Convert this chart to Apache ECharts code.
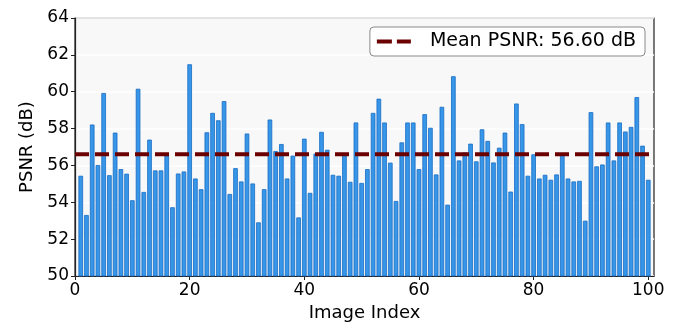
<!DOCTYPE html>
<html>
<head>
<meta charset="utf-8">
<script src="https://cdn.jsdelivr.net/npm/echarts@6/dist/echarts.min.js"></script>
<style>
  html, body { margin: 0; padding: 0; background: #fff; }
  #chart { width: 681px; height: 322px; }
</style>
</head>
<body>
<div id="chart"></div>
<script>
// PSNR per image (index 1..100)
const imageIndex = Array.from({ length: 100 }, (_, i) => i + 1);
const psnr = [
  55.44, 53.31, 58.22, 56.02, 59.93, 55.47, 57.78, 55.80, 55.55, 54.11,
  60.16, 54.56, 57.40, 55.73, 55.73, 56.55, 53.73, 55.56, 55.67, 61.49,
  55.29, 54.71, 57.80, 58.85, 58.45, 59.49, 54.45, 55.85, 55.13, 57.73,
  55.02, 52.91, 54.71, 58.49, 56.78, 57.16, 55.29, 56.53, 53.18, 57.45,
  54.51, 56.64, 57.82, 56.85, 55.49, 55.44, 56.60, 55.11, 58.33, 55.05,
  55.80, 58.85, 59.62, 58.33, 56.15, 54.07, 57.25, 58.33, 58.33, 55.80,
  58.78, 58.04, 55.51, 59.18, 53.87, 60.84, 56.27, 56.70, 57.18, 56.22,
  57.96, 57.33, 56.16, 56.96, 57.78, 54.58, 59.36, 58.24, 55.44, 56.60,
  55.29, 55.49, 55.22, 55.51, 56.60, 55.29, 55.13, 55.16, 53.00, 58.89,
  55.95, 56.05, 58.33, 56.27, 58.33, 57.84, 58.09, 59.71, 57.07, 55.22
];
const meanPsnr = 56.60;
const meanLabel = 'Mean PSNR: 56.60 dB';
const yTicks = [50, 52, 54, 56, 58, 60, 62, 64];
const xTicks = [0, 20, 40, 60, 80, 100];

const font = 'DejaVu Sans';
const chart = echarts.init(document.getElementById('chart'), null, { renderer: 'canvas' });

chart.setOption({
  backgroundColor: '#ffffff',
  animation: false,
  textStyle: { fontFamily: font },
  grid: {
    left: 75,
    right: 27,
    top: 18,
    bottom: 46,
    outerBoundsMode: 'none',
    containLabel: false,
    show: true,
    backgroundColor: '#f8f8f8',
    borderColor: '#222',
    borderWidth: 1.2
  },
  legend: {
    right: 36,
    top: 27,
    padding: [5, 9, 5, 7],
    borderColor: '#8a8a8a',
    borderWidth: 1,
    borderRadius: 4,
    backgroundColor: '#ffffff',
    itemWidth: 34,
    itemHeight: 4,
    textStyle: { fontSize: 19, color: '#000', padding: [0, 0, 0, 14] },
    data: [{
      name: meanLabel,
      icon: 'path://M0,0L15,0L15,4L0,4Z M20,0L34,0L34,4L20,4Z'
    }]
  },
  xAxis: {
    type: 'value',
    min: 0,
    max: 101,
    interval: 20,
    name: 'Image Index',
    nameLocation: 'middle',
    nameGap: 27,
    nameTextStyle: { fontSize: 18, color: '#000', verticalAlign: 'top' },
    axisLine: { show: true, onZero: false, lineStyle: { color: '#222', width: 1.2 } },
    axisTick: { show: true, inside: false, length: 4, lineStyle: { color: '#222' } },
    axisLabel: {
      fontSize: 17,
      color: '#000',
      margin: 6,
      showMaxLabel: false,
      formatter: (v) => (xTicks.includes(v) ? String(v) : '')
    },
    splitLine: { show: false }
  },
  yAxis: {
    type: 'value',
    min: yTicks[0],
    max: yTicks[yTicks.length - 1],
    interval: 2,
    name: 'PSNR (dB)',
    nameLocation: 'middle',
    nameGap: 39,
    nameTextStyle: { fontSize: 18, color: '#000' },
    axisLine: { show: true, lineStyle: { color: '#222', width: 1.2 } },
    axisTick: { show: true, inside: false, length: 4, lineStyle: { color: '#222' } },
    axisLabel: { fontSize: 17, color: '#000', margin: 6 },
    splitLine: { show: true, lineStyle: { color: '#ffffff', width: 1.5 } }
  },
  series: [
    {
      name: 'PSNR',
      type: 'bar',
      barWidth: 4.6,
      data: imageIndex.map((x, i) => [x, psnr[i]]),
      itemStyle: {
        color: '#3796e8',
        borderColor: '#186cc4',
        borderWidth: 0.8
      },
      z: 2
    },
    {
      name: meanLabel,
      type: 'line',
      data: [[0, meanPsnr], [101, meanPsnr]],
      symbol: 'none',
      color: '#6b0000',
      lineStyle: { color: '#6b0000', width: 4, type: [14, 6] },
      z: 3
    }
  ]
});
</script>
</body>
</html>
